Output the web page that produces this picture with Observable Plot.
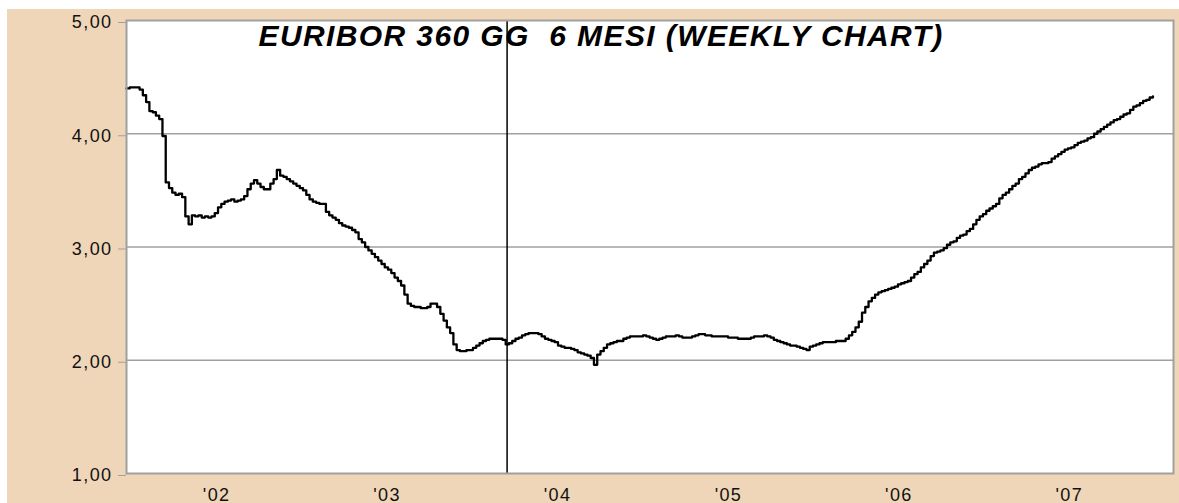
<!DOCTYPE html>
<html>
<head>
<meta charset="utf-8">
<script src="https://cdn.jsdelivr.net/npm/d3@7"></script>
<script src="https://cdn.jsdelivr.net/npm/@observablehq/plot@0.6"></script>
<style>
  html, body { margin: 0; padding: 0; background: #ffffff; }
  #chart { position: absolute; left: 7px; top: 9px; }
  #chart svg text { letter-spacing: 1.4px; }
</style>
</head>
<body>
<div id="chart"></div>
<script>
// Weekly closes of the 6-month Euribor (360)
const firstWeek = "2001-06-22";
const weeklyValues = [
  4.40,4.41,4.41,4.41,4.39,4.34,4.28,4.20,4.19,4.16,
  4.13,3.98,3.57,3.52,3.48,3.46,3.47,3.44,3.27,3.20,
  3.28,3.27,3.28,3.26,3.27,3.26,3.27,3.30,3.35,3.38,
  3.40,3.41,3.42,3.40,3.41,3.42,3.45,3.51,3.56,3.59,
  3.56,3.53,3.51,3.51,3.56,3.60,3.68,3.63,3.62,3.60,
  3.58,3.56,3.54,3.52,3.50,3.46,3.42,3.40,3.39,3.38,
  3.38,3.31,3.28,3.26,3.24,3.21,3.19,3.18,3.17,3.15,
  3.13,3.07,3.04,3.00,2.97,2.94,2.91,2.88,2.85,2.82,
  2.80,2.77,2.73,2.70,2.66,2.58,2.50,2.48,2.47,2.47,
  2.46,2.46,2.47,2.50,2.50,2.47,2.41,2.35,2.29,2.24,
  2.14,2.09,2.08,2.08,2.09,2.09,2.11,2.13,2.15,2.17,
  2.18,2.19,2.19,2.19,2.19,2.18,2.14,2.15,2.17,2.19,
  2.20,2.22,2.23,2.24,2.24,2.24,2.23,2.21,2.19,2.18,
  2.17,2.16,2.13,2.12,2.11,2.11,2.10,2.09,2.07,2.06,
  2.05,2.04,2.02,1.96,2.05,2.08,2.11,2.14,2.15,2.16,
  2.17,2.17,2.19,2.20,2.21,2.21,2.21,2.21,2.22,2.21,
  2.20,2.19,2.18,2.19,2.20,2.21,2.21,2.21,2.22,2.21,
  2.20,2.20,2.20,2.21,2.22,2.23,2.23,2.22,2.22,2.21,
  2.21,2.21,2.21,2.21,2.20,2.20,2.20,2.19,2.19,2.19,
  2.19,2.20,2.21,2.21,2.21,2.22,2.21,2.20,2.18,2.17,
  2.16,2.15,2.14,2.13,2.13,2.12,2.11,2.10,2.09,2.12,
  2.13,2.14,2.15,2.16,2.16,2.16,2.16,2.17,2.17,2.17,
  2.19,2.22,2.25,2.29,2.34,2.42,2.47,2.52,2.55,2.58,
  2.60,2.61,2.62,2.63,2.64,2.65,2.67,2.68,2.69,2.70,
  2.73,2.76,2.78,2.82,2.85,2.88,2.92,2.95,2.96,2.97,
  2.99,3.02,3.04,3.05,3.08,3.10,3.11,3.14,3.16,3.20,
  3.24,3.27,3.29,3.32,3.34,3.36,3.38,3.43,3.46,3.48,
  3.51,3.54,3.56,3.60,3.62,3.65,3.68,3.70,3.71,3.73,
  3.74,3.74,3.75,3.78,3.80,3.82,3.84,3.86,3.87,3.88,
  3.90,3.92,3.93,3.94,3.96,3.97,4.00,4.02,4.04,4.06,
  4.08,4.10,4.12,4.13,4.15,4.17,4.18,4.21,4.24,4.25,
  4.27,4.29,4.30,4.32,4.33
];

const yTicks = [1, 2, 3, 4, 5];
const gridValues = [2, 3, 4];
const tickYears = [2002, 2003, 2004, 2005, 2006, 2007];
const tickLabels = ["'02", "'03", "'04", "'05", "'06", "'07"];
const xDomain = ["2001-06-22", "2007-08-12"];
const cursorDate = "2003-09-15";
const title = "EURIBOR 360 GG  6 MESI (WEEKLY CHART)";

const start = new Date(firstWeek);
const data = weeklyValues.map((v, i) => ({ date: d3.utcDay.offset(start, 7 * i), value: v }));
const tickDates = tickYears.map(y => new Date(Date.UTC(y, 0, 1)));

const chart = Plot.plot({
  width: 1172,
  height: 494,
  marginLeft: 119,
  marginTop: 11,
  marginRight: 6,
  marginBottom: 30,
  style: {
    background: "#efd6b8",
    fontFamily: "'Liberation Sans', Arial, sans-serif",
    fontSize: "18px",
    color: "#000",
    overflow: "visible"
  },
  x: { type: "utc", domain: xDomain.map(d => new Date(d)) },
  y: { domain: [1, 5] },
  marks: [
    Plot.frame({ fill: "#ffffff" }),
    Plot.ruleY(gridValues, { stroke: "#a0a0a0", strokeWidth: 1.6 }),
    Plot.ruleX([new Date(cursorDate)], { stroke: "#000", strokeWidth: 1.5 }),
    Plot.line(data, { x: "date", y: "value", curve: "step-after", stroke: "#000", strokeWidth: 2.3 }),
    Plot.dot(data, { x: "date", y: "value", symbol: "plus", r: 3, fill: "#000", stroke: "none" }),
    Plot.frame({ stroke: "#a0a0a0", strokeWidth: 2 }),
    Plot.axisY({
      ticks: yTicks,
      tickFormat: d => d.toFixed(2).replace(".", ","),
      tickSize: 8,
      tickPadding: 6,
      stroke: "#a0a0a0",
      fill: "#111",
      label: null,
      fontSize: 18,
      dy: 2
    }),
    Plot.axisX({
      ticks: tickDates,
      tickFormat: d => tickLabels[tickYears.indexOf(d.getUTCFullYear())],
      tickSize: 0,
      tickPadding: 15,
      fill: "#111",
      label: null,
      fontSize: 18
    }),
    Plot.text([title], {
      frameAnchor: "top-left",
      dx: 132,
      dy: 4,
      fontSize: 30,
      fontWeight: "bold",
      fontStyle: "italic",
      fill: "#000"
    })
  ]
});
document.getElementById("chart").appendChild(chart);
</script>
</body>
</html>
